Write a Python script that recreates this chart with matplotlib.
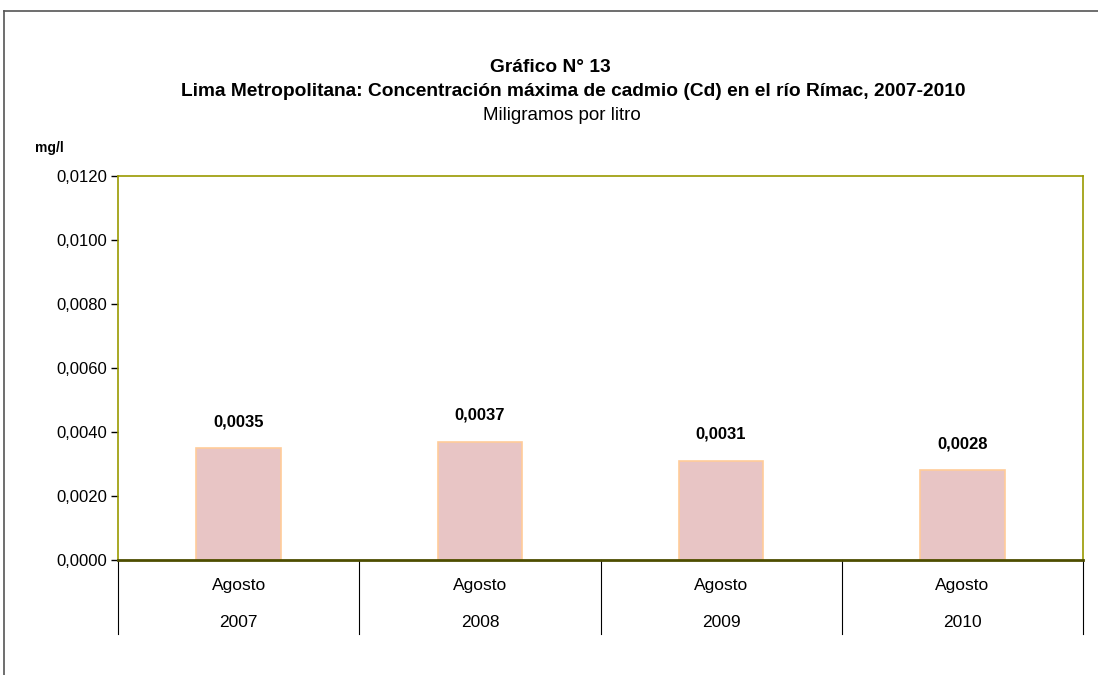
import matplotlib
matplotlib.use('Agg')
import matplotlib.pyplot as plt
from matplotlib.lines import Line2D
from matplotlib import font_manager

# data
months = ['Agosto', 'Agosto', 'Agosto', 'Agosto']
years = ['2007', '2008', '2009', '2010']
values = [0.0035, 0.0037, 0.0031, 0.0028]
value_labels = ['0,0035', '0,0037', '0,0031', '0,0028']
yticks = [0.0, 0.002, 0.004, 0.006, 0.008, 0.010, 0.012]

names = {f.name for f in font_manager.fontManager.ttflist}
narrow = 'Liberation Sans Narrow' if 'Liberation Sans Narrow' in names else 'Liberation Sans'
plt.rcParams['font.family'] = ['Liberation Sans', 'DejaVu Sans']

W, H = 1098, 675
fig = plt.figure(figsize=(W / 100, H / 100), dpi=100)
ax = fig.add_axes([118 / W, 1 - 560 / H, (1083 - 118) / W, (560 - 176) / H])

x = list(range(len(values)))
ax.bar(x, values, width=0.35, color='#e8c5c5', edgecolor='#ffcc99', linewidth=1.2, zorder=2)
for xi, v, lab in zip(x, values, value_labels):
    ax.annotate(lab, (xi, v), xytext=(0, 19), textcoords='offset points',
                ha='center', va='center', fontsize=12, fontweight='bold')

ax.set_xlim(-0.5, len(values) - 0.5)
ax.set_ylim(0, 0.012)
ax.set_yticks(yticks)
ax.set_yticklabels([f'{t:.4f}'.replace('.', ',') for t in yticks], fontsize=12)
ax.set_xticks([])
ax.tick_params(axis='y', direction='out', length=5, width=1, color='black', pad=3)
for s in ['top', 'right', 'left']:
    ax.spines[s].set_color('#999900')
    ax.spines[s].set_linewidth(1.2)
ax.spines['bottom'].set_color('#4d4d00')
ax.spines['bottom'].set_linewidth(2)

# category separators and two-level labels
for i in range(len(values) + 1):
    ax.plot([i - 0.5, i - 0.5], [0, -0.0023], color='black', lw=0.8,
            clip_on=False, transform=ax.transData)
for xi, m, yr in zip(x, months, years):
    ax.text(xi, -0.0008, m, ha='center', va='center', fontsize=12.5)
    ax.text(xi, -0.00195, yr, ha='center', va='center', fontsize=12.5)

# titles
fig.text(550 / W, 1 - 67 / H, 'Gráfico N° 13', ha='center', va='center',
         fontsize=13.8, fontweight='bold', family=narrow)
fig.text(573 / W, 1 - 91 / H,
         'Lima Metropolitana: Concentración máxima de cadmio (Cd) en el río Rímac, 2007-2010',
         ha='center', va='center', fontsize=13.8, fontweight='bold', family=narrow)
fig.text(562 / W, 1 - 115 / H, 'Miligramos por litro', ha='center', va='center',
         fontsize=13.5, family=narrow)
fig.text(35 / W, 1 - 148 / H, 'mg/l', ha='left', va='center', fontsize=10,
         fontweight='bold', family=narrow)

# outer frame
fig.add_artist(Line2D([4 / W, 4 / W], [0, 1 - 11 / H], color='#555555', lw=1.2))
fig.add_artist(Line2D([4 / W, 1], [1 - 11 / H, 1 - 11 / H], color='#555555', lw=1.2))

fig.savefig('out.png', dpi=100)
